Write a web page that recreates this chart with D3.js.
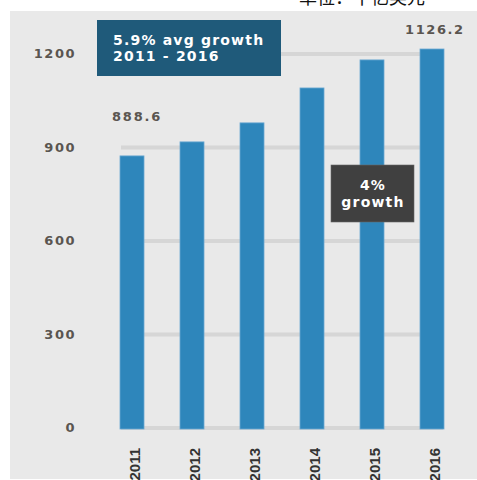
<!DOCTYPE html>
<html>
<head>
<meta charset="utf-8">
<script src="https://cdnjs.cloudflare.com/ajax/libs/d3/7.8.5/d3.min.js"></script>
<style>
  body { margin: 0; background: #fff; }
  svg text { font-family: "DejaVu Sans", sans-serif; }
</style>
</head>
<body>
<div id="chart"></div>
<script>
// data
var years = ["2011", "2012", "2013", "2014", "2015", "2016"];
var values = [873, 918, 979, 1091, 1181, 1216];
var yTicks = [0, 300, 600, 900, 1200];
var endLabels = ["888.6", "1126.2"];
var noteAvg = ["5.9% avg growth", "2011 - 2016"];
var noteLast = ["4%", "growth"];
var unitText = "单位：十亿美元";

var W = 477, H = 480;

var svg = d3.select("#chart").append("svg")
    .attr("width", W)
    .attr("height", H);

// grey panel
svg.append("rect")
  .attr("x", 10).attr("y", 11)
  .attr("width", W - 10).attr("height", H - 12)
  .attr("fill", "#e9e9e9");

// title, cropped at the top like in the picture
svg.append("text")
  .attr("x", 362).attr("y", 4)
  .attr("text-anchor", "middle")
  .style("font-family", "'Noto Sans CJK SC', sans-serif")
  .style("font-size", "18px")
  .attr("fill", "#111")
  .text(unitText);

var x = d3.scaleBand()
  .domain(years)
  .range([102, 462])
  .paddingInner(0.6)
  .paddingOuter(0.3);

var y = d3.scaleLinear()
  .domain([0, 1200])
  .range([428, 54]);

// gridlines
svg.append("g").selectAll("line")
  .data(yTicks)
  .enter().append("line")
  .attr("x1", 121).attr("x2", 443)
  .attr("y1", function(d) { return y(d); })
  .attr("y2", function(d) { return y(d); })
  .attr("stroke", "#d6d6d6")
  .attr("stroke-width", 4);

// y labels
svg.append("g").selectAll("text")
  .data(yTicks)
  .enter().append("text")
  .attr("x", 76)
  .attr("y", function(d) { return y(d) + 4; })
  .attr("text-anchor", "end")
  .attr("fill", "#5a5550")
  .style("font-size", "13px")
  .style("font-weight", "bold")
  .style("letter-spacing", "1.5px")
  .text(function(d) { return d; });

// bars
svg.append("g").selectAll("rect")
  .data(values)
  .enter().append("rect")
  .attr("x", function(d, i) { return x(years[i]); })
  .attr("y", function(d) { return y(d); })
  .attr("width", x.bandwidth())
  .attr("height", function(d) { return y(0) + 1 - y(d); })
  .attr("fill", "#2e86bb")
  .attr("stroke", "#6aa8d2")
  .attr("stroke-width", 0.8);

// year labels (rotated)
svg.append("g").selectAll("text")
  .data(years)
  .enter().append("text")
  .attr("transform", function(d) {
    return "translate(" + (x(d) + x.bandwidth() / 2 + 8) + ",448) rotate(-90)";
  })
  .attr("text-anchor", "end")
  .attr("fill", "#333")
  .style("font-family", "'Liberation Sans', Arial, sans-serif")
  .style("font-size", "15px")
  .style("font-weight", "bold")
  .text(function(d) { return d; });

// value labels on first and last bar
svg.append("text")
  .attr("x", 112).attr("y", 121)
  .attr("fill", "#5a5550")
  .style("font-size", "13px").style("font-weight", "bold")
  .style("letter-spacing", "1.8px")
  .text(endLabels[0]);

svg.append("text")
  .attr("x", 405).attr("y", 34)
  .attr("fill", "#5a5550")
  .style("font-size", "13px").style("font-weight", "bold")
  .style("letter-spacing", "1.6px")
  .text(endLabels[1]);

// annotation: average growth
svg.append("rect")
  .attr("x", 97).attr("y", 20)
  .attr("width", 184).attr("height", 56)
  .attr("fill", "#1f5a7a");

svg.append("g").selectAll("text")
  .data(noteAvg)
  .enter().append("text")
  .attr("x", 113)
  .attr("y", function(d, i) { return 45 + i * 16; })
  .attr("fill", "#fff")
  .style("font-size", "14px").style("font-weight", "bold")
  .style("letter-spacing", "1.2px")
  .text(function(d) { return d; });

// annotation: last year growth
svg.append("rect")
  .attr("x", 331).attr("y", 165)
  .attr("width", 83).attr("height", 57)
  .attr("fill", "#404040")
  .attr("stroke", "#666")
  .attr("stroke-width", 0.6);

svg.append("g").selectAll("text")
  .data(noteLast)
  .enter().append("text")
  .attr("x", 373)
  .attr("y", function(d, i) { return 190 + i * 17; })
  .attr("text-anchor", "middle")
  .attr("fill", "#fff")
  .style("font-size", "14px").style("font-weight", "bold")
  .style("letter-spacing", "1.2px")
  .text(function(d) { return d; });
</script>
</body>
</html>
